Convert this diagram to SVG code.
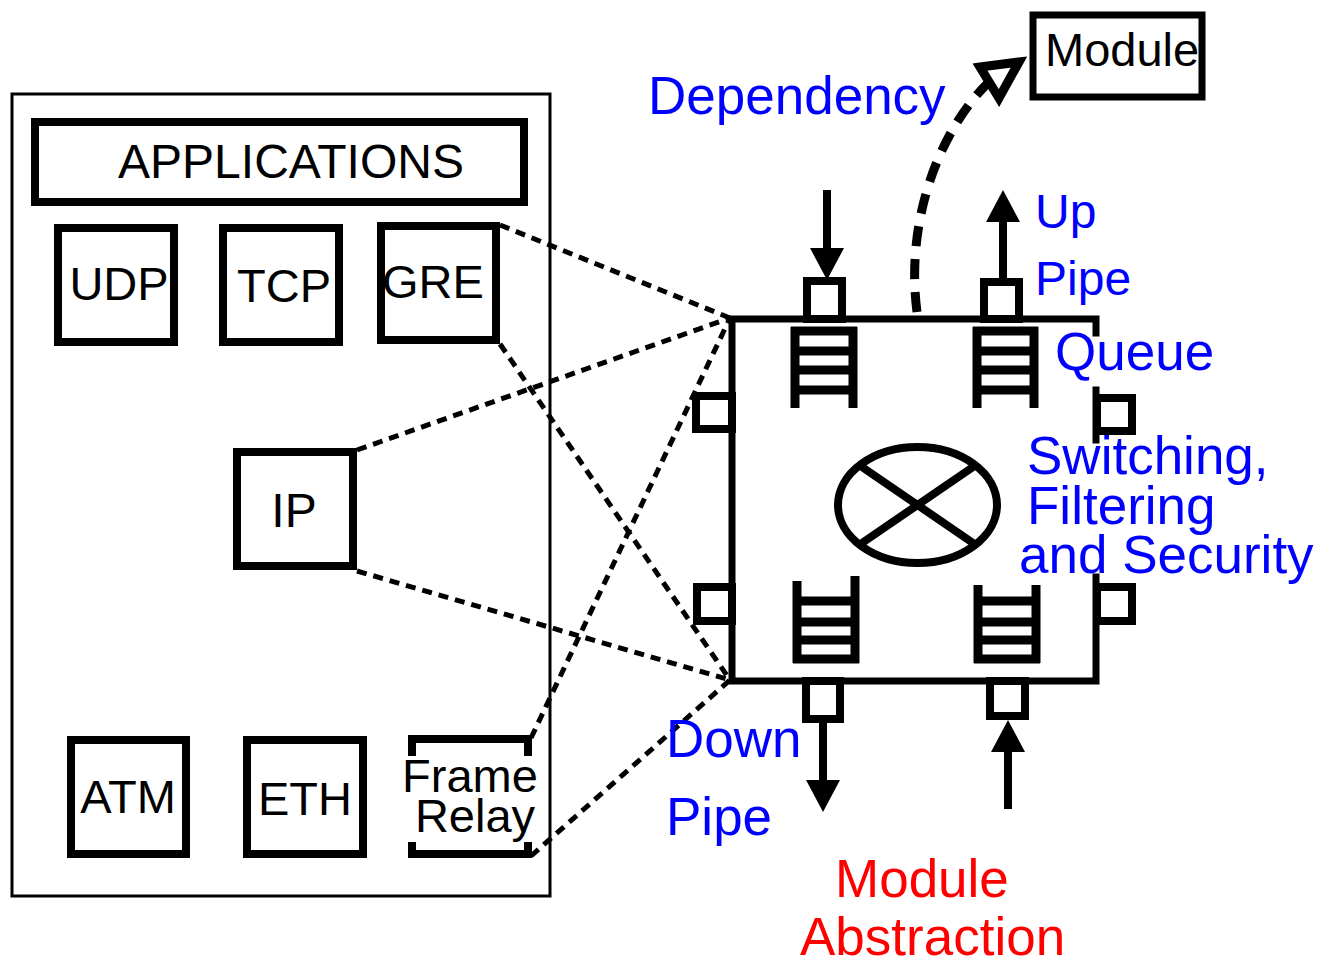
<svg xmlns="http://www.w3.org/2000/svg" width="1323" height="960" viewBox="0 0 1323 960">
  <style>
    .node { fill: #ffffff; stroke: #000000; stroke-width: 8; }
    .lbl { font-family: "Liberation Sans", Arial, sans-serif; fill: #000000; }
    .blue { font-family: "Liberation Sans", Arial, sans-serif; fill: #0000ff; font-size: 53px; }
    .red { font-family: "Liberation Sans", Arial, sans-serif; fill: #ff0000; font-size: 53px; }
    .dot { fill: none; stroke: #000000; stroke-width: 5; stroke-dasharray: 10 7; }
    .edge { fill: none; stroke: #000000; stroke-width: 7; stroke-linecap: square; }
    .port { fill: #ffffff; stroke: #000000; stroke-width: 8; }
    .queue { fill: none; stroke: #000000; stroke-width: 9; }
    .pipe { fill: none; stroke: #000000; stroke-width: 8; marker-end: url(#head); }
  </style>
  <defs>
    <marker id="head" markerUnits="userSpaceOnUse" markerWidth="40" markerHeight="40" refX="0" refY="0" orient="auto" overflow="visible">
      <path d="M0,-17 L32,0 L0,17 Z" fill="#000000"/>
    </marker>
  </defs>

  <rect width="1323" height="960" fill="#ffffff"/>

  <!-- protocol stack container -->
  <g id="stack">
    <rect x="12" y="94" width="538" height="802" fill="none" stroke="#000000" stroke-width="3"/>
  </g>

  <g id="applications">
    <rect class="node" x="35" y="122" width="489" height="80"/>
    <text class="lbl" x="291" y="178" font-size="48" text-anchor="middle">APPLICATIONS</text>
  </g>
  <g id="udp">
    <rect class="node" x="58" y="228" width="116" height="114"/>
    <text class="lbl" x="119" y="300" font-size="47" text-anchor="middle">UDP</text>
  </g>
  <g id="tcp">
    <rect class="node" x="223" y="228" width="116" height="114"/>
    <text class="lbl" x="284" y="302" font-size="47" text-anchor="middle">TCP</text>
  </g>
  <g id="gre">
    <rect class="node" x="381" y="226" width="115" height="114"/>
    <text class="lbl" x="433" y="298" font-size="47" text-anchor="middle">GRE</text>
  </g>
  <g id="ip">
    <rect class="node" x="237" y="452" width="116" height="114"/>
    <text class="lbl" x="294" y="527" font-size="48" text-anchor="middle">IP</text>
  </g>
  <g id="atm">
    <rect class="node" x="71" y="740" width="115" height="114"/>
    <text class="lbl" x="128" y="813" font-size="47" text-anchor="middle">ATM</text>
  </g>
  <g id="eth">
    <rect class="node" x="247" y="740" width="116" height="114"/>
    <text class="lbl" x="305" y="815" font-size="47" text-anchor="middle">ETH</text>
  </g>
  <g id="frame-relay">
    <path d="M412,756 V739 H528 V756 M412,842 V854 H528 V842" fill="none" stroke="#000000" stroke-width="8"/>
    <text class="lbl" x="470" y="792" font-size="47" text-anchor="middle">Frame</text>
    <text class="lbl" x="475" y="832" font-size="47" text-anchor="middle">Relay</text>
  </g>

  <!-- mapping of protocols onto the module -->
  <g id="connectors">
    <path class="dot" d="M500,225 L730,318"/>
    <path class="dot" d="M357,450 L730,318"/>
    <path class="dot" d="M531,738 L730,318"/>
    <path class="dot" d="M500,344 L730,680"/>
    <path class="dot" d="M357,571 L730,680"/>
    <path class="dot" d="M531,856 L730,680"/>
    <!-- dependency link to another module -->
    <path d="M917,312 C905,220 940,130 988,83" fill="none" stroke="#000000" stroke-width="9" stroke-dasharray="20 13"/>
    <polygon points="980,67 1019,62 999,98" fill="#ffffff" stroke="#000000" stroke-width="9" stroke-linejoin="miter"/>
    <!-- pipes -->
    <path class="pipe" d="M827,190 V248"/>
    <path class="pipe" d="M1003,278 V222"/>
    <path class="pipe" d="M823,723 V780"/>
    <path class="pipe" d="M1008,809 V752"/>
  </g>

  <!-- module abstraction -->
  <g id="module">
    <path class="edge" d="M1096,333 V319 H732 V681 H1096 V577"/>
    <path class="edge" d="M1096,390 V440"/>
    <!-- queues -->
    <path class="queue" d="M795,408 V327 M853,408 V327 M791,331 H857 M791,351 H857 M791,370 H857 M791,390 H857"/>
    <path class="queue" d="M977,408 V327 M1034,408 V327 M973,331 H1038 M973,351 H1038 M973,370 H1038 M973,390 H1038"/>
    <path class="queue" d="M797,663 V581 M855,663 V576 M793,659 H859 M793,640 H859 M793,622 H859 M793,601 H859"/>
    <path class="queue" d="M978,663 V585 M1036,663 V585 M974,659 H1040 M974,640 H1040 M974,622 H1040 M974,601 H1040"/>
    <!-- switch -->
    <ellipse cx="917.5" cy="505" rx="79.5" ry="58" fill="none" stroke="#000000" stroke-width="8"/>
    <path d="M862,467 L973,543 M973,467 L862,543" fill="none" stroke="#000000" stroke-width="8"/>
    <!-- ports -->
    <rect class="port" x="807" y="281" width="35" height="38"/>
    <rect class="port" x="984" y="282" width="35" height="37"/>
    <rect class="port" x="696" y="396" width="36" height="33"/>
    <rect class="port" x="697" y="587" width="35" height="34"/>
    <rect class="port" x="1097" y="398" width="35" height="33"/>
    <rect class="port" x="1097" y="587" width="35" height="34"/>
    <rect class="port" x="806" y="681" width="34" height="38"/>
    <rect class="port" x="990" y="681" width="35" height="35"/>
  </g>

  <g id="module-ref">
    <rect x="1033" y="15" width="169" height="82" fill="#ffffff" stroke="#000000" stroke-width="7"/>
    <text class="lbl" x="1045" y="66" font-size="47">Module</text>
  </g>

  <!-- annotations -->
  <g id="labels">
    <text class="blue" x="648" y="114">Dependency</text>
    <text class="blue" x="1035" y="228" font-size="48px" style="font-size:48px">Up</text>
    <text class="blue" x="1035" y="295" style="font-size:48px">Pipe</text>
    <text class="blue" x="1055" y="370">Queue</text>
    <text class="blue" x="1027" y="474">Switching,</text>
    <text class="blue" x="1027" y="524">Filtering</text>
    <text class="blue" x="1019" y="573">and Security</text>
    <text class="blue" x="666" y="757">Down</text>
    <text class="blue" x="666" y="835">Pipe</text>
    <text class="red" x="835" y="897">Module</text>
    <text class="red" x="800" y="955">Abstraction</text>
  </g>
</svg>
